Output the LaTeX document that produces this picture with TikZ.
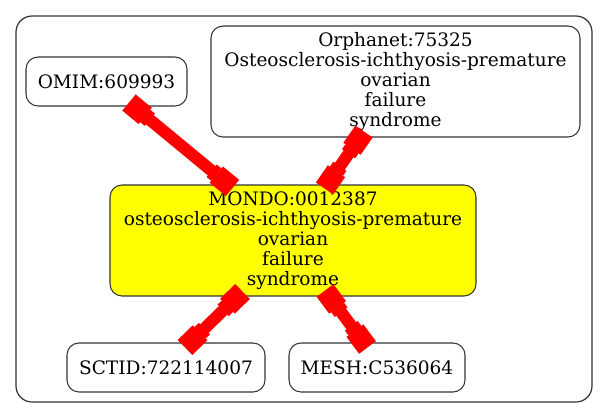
\documentclass[tikz,border=0pt]{standalone}
\usepackage{fontspec}
\setmainfont{DejaVu Serif}
\usetikzlibrary{calc,arrows.meta}
\definecolor{termyellow}{RGB}{255,255,0}
\definecolor{xrefred}{RGB}{255,0,0}

\begin{document}
\begin{tikzpicture}[x=0.75pt, y=-0.75pt,
		termbox/.style={draw=black!80, line width=0.8pt, rounded corners=9pt, align=center, inner sep=0pt, font=\fontsize{13.9}{15}\selectfont},
		xref/.style={draw=xrefred, line width=9pt,
			{Square[length=15.75pt,line width=0pt] Rectangle[length=4.5pt,width=12pt,line width=0pt]}-{Rectangle[length=4.5pt,width=12pt,line width=0pt] Square[length=15.75pt,line width=0pt]}}]
			%%%%% START %%%%%
			
			\useasboundingbox (0, 0) rectangle (608, 419);
			\draw[draw=black!80, line width=0.9pt, rounded corners=12pt] (16, 16) rectangle (592, 402);
			
			\node[termbox, minimum width=120.75pt, minimum height=36.75pt] (omim) at (106.5, 81.5) {OMIM:609993};
			\node[termbox, minimum width=276.75pt, minimum height=83.25pt] (orph) at (395.5, 81.5) {Orphanet:75325\\Osteosclerosis-ichthyosis-premature\\ovarian\\failure\\syndrome};
			\node[termbox, fill=termyellow, minimum width=274.5pt, minimum height=83.25pt] (mondo) at (293, 240.5) {MONDO:0012387\\osteosclerosis-ichthyosis-premature\\ovarian\\failure\\syndrome};
			\node[termbox, minimum width=148.5pt, minimum height=36.75pt] (sctid) at (166, 367.5) {SCTID:722114007};
			\node[termbox, minimum width=132pt, minimum height=36.75pt] (mesh) at (377, 367.5) {MESH:C536064};
			
			\draw[xref] ($(omim.south)+(22.5,-4)$) -- ($(mondo.north)+(-60.5,3.5)$);
			\draw[xref] ($(orph.south)+(-31.5,-6)$) -- ($(mondo.north)+(31.5,4)$);
			\draw[xref] ($(mondo.south)+(-50.5,-5)$) -- ($(sctid.north)+(19,5)$);
			\draw[xref] ($(mondo.south)+(32,-6)$) -- ($(mesh.north)+(-9.5,5)$);
			
			%%%%% END %%%%%
		\end{tikzpicture}
\end{document}
